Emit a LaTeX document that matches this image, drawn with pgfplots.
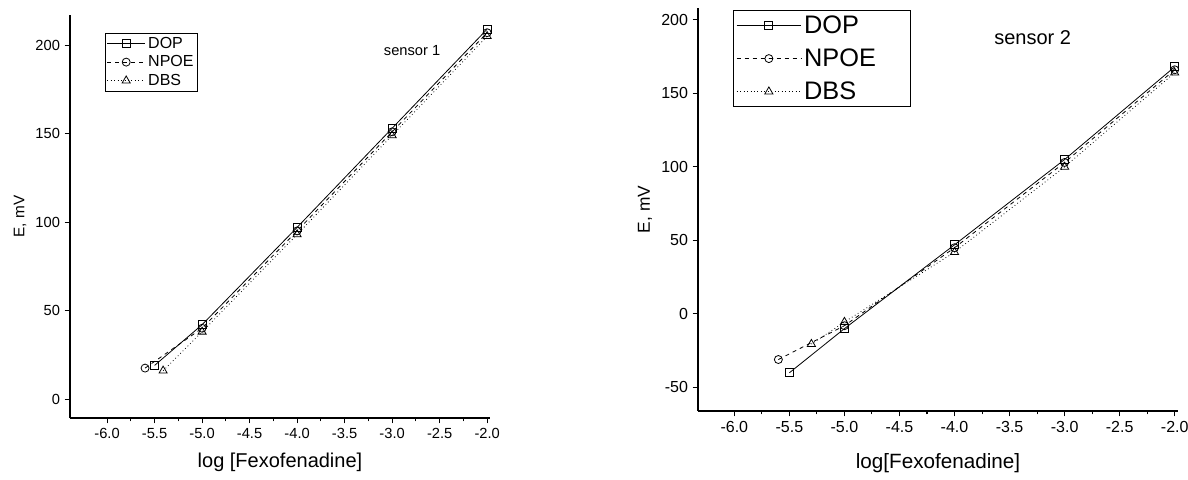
\documentclass[border=0pt]{standalone}
\usepackage{pgfplots}
\pgfplotsset{compat=1.18}
\usepackage{fontspec}
\setmainfont{Liberation Sans}
\begin{document}
\begin{tikzpicture}
\useasboundingbox (0,0) rectangle (891pt,359.25pt);
\pgfplotsset{
  myaxis/.style={
    scale only axis,
    axis lines=left,
    axis line style={-, line width=0.8pt},
    tick style={black, line width=0.8pt},
    tick align=outside,
    major tick length=4pt,
    minor tick length=2.5pt,
    xtick={-6,-5.5,...,-2},
    minor x tick num=1,
    /pgf/number format/assume math mode=true,
    xticklabel style={/pgf/number format/.cd,fixed,fixed zerofill,precision=1},
    yticklabel style={/pgf/number format/.cd,fixed},
    legend cell align=left,
    legend style={draw=black, line width=0.5pt, inner sep=1pt},
    every axis plot/.append style={black, line width=0.6pt},
  },
}
% left
\begin{axis}[myaxis, at={(52.5pt,45.75pt)}, anchor=south west,
  width=315pt, height=302.25pt,
  xmin=-6.39, xmax=-1.97, ymin=-10.7, ymax=217,
  ytick={0,50,100,150,200},
  ticklabel style={font=\fontsize{11}{12}\selectfont},
  xlabel={log [Fexofenadine]}, ylabel={E, mV},
  xlabel style={font=\fontsize{15}{17}\selectfont, yshift=-4pt},
  ylabel style={font=\fontsize{11.5}{13}\selectfont},
  legend image code/.code={\draw[mark repeat=2,mark phase=2,#1] plot coordinates {(0cm,0cm) (0.5cm,0cm) (1cm,0cm)};},
  legend style={font=\fontsize{12}{14}\selectfont, row sep=0pt, at={(axis cs:-6.02,207)}, anchor=north west},
  ]
\addplot[solid, mark=square, mark size=3pt, mark options={solid}] coordinates {(-5.5,19) (-5,42) (-4,97) (-3,153) (-2,209)};
\addplot[dashed, mark=o, mark size=3pt, mark options={solid}] coordinates {(-5.6,17.5) (-5,40) (-4,95) (-3,151) (-2,207)};
\addplot[dotted, mark=triangle, mark size=3.5pt, mark options={solid}] coordinates {(-5.41,16) (-5,38) (-4,93) (-3,149) (-2,205)};
\legend{DOP,NPOE,DBS}
\node[font=\fontsize{11}{13}\selectfont, anchor=center] at (axis cs:-2.79,197) {sensor 1};
\end{axis}
% right
\begin{axis}[myaxis, at={(523.5pt,51pt)}, anchor=south west,
  width=360pt, height=302.25pt,
  xmin=-6.33, xmax=-1.97, ymin=-66, ymax=208,
  ytick={-50,0,50,100,150,200},
  ticklabel style={font=\fontsize{12}{13}\selectfont},
  xlabel={log[Fexofenadine]}, ylabel={E, mV},
  xlabel style={font=\fontsize{15.5}{17}\selectfont, yshift=-9pt},
  ylabel style={font=\fontsize{13}{15}\selectfont},
  legend image code/.code={\draw[mark repeat=2,mark phase=2,#1] plot coordinates {(0cm,0cm) (0.85cm,0cm) (1.7cm,0cm)};},
  legend style={font=\fontsize{19}{21}\selectfont, row sep=6pt, inner sep=2pt, at={(axis cs:-6.01,206.6)}, anchor=north west},
  ]
\addplot[solid, mark=square, mark size=3pt, mark options={solid}] coordinates {(-5.5,-40) (-5,-10) (-4,47) (-3,105) (-2,168)};
\addplot[dashed, mark=o, mark size=3pt, mark options={solid}] coordinates {(-5.6,-31) (-5,-8) (-4,45) (-3,103) (-2,166)};
\addplot[dotted, mark=triangle, mark size=3.5pt, mark options={solid}] coordinates {(-5.3,-20.5) (-5,-5.5) (-4,42) (-3,100) (-2,164)};
\legend{DOP,NPOE\hspace*{22pt},DBS}
\node[font=\fontsize{15}{17}\selectfont, anchor=center] at (axis cs:-3.29,188) {sensor 2};
\end{axis}
\end{tikzpicture}
\end{document}
